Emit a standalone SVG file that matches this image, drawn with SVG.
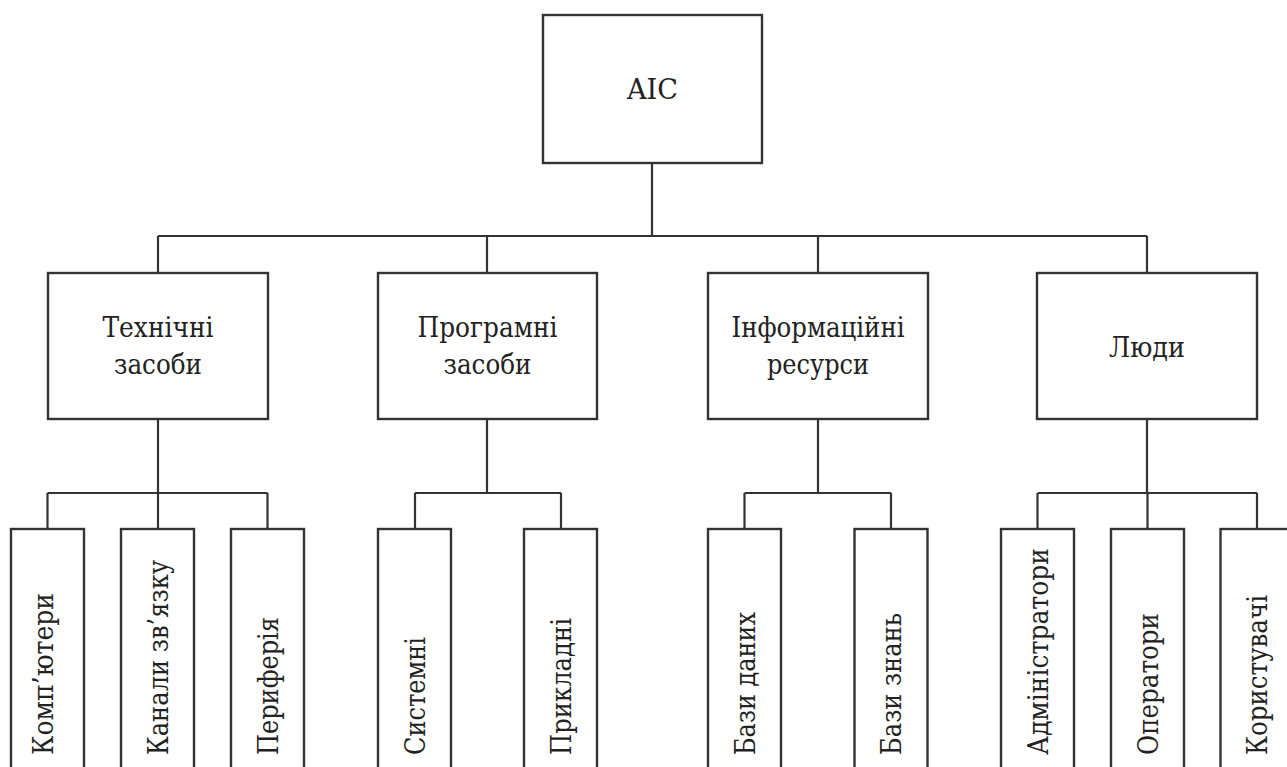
<svg xmlns="http://www.w3.org/2000/svg" width="1287" height="767" viewBox="0 0 1287 767">
<style>
.box{fill:#fff;stroke:#333;stroke-width:2.4}
.ln{fill:none;stroke:#333;stroke-width:2.2}
.t{font-family:"DejaVu Serif",serif;font-size:28px;fill:#222}
.c{text-anchor:middle}
</style>
<rect width="1287" height="767" fill="#fff"/>
<g id="connectors">
<path class="ln" d="M652,163V236M158,236H1147M158,236V273M487,236V273M818,236V273M1147,236V273"/>
<path class="ln" d="M158,419V493M47.5,493H267.5M47.5,493V529M158,493V529M267.5,493V529"/>
<path class="ln" d="M487,419V493M415,493H561M415,493V529M561,493V529"/>
<path class="ln" d="M818,419V493M744.5,493H891M744.5,493V529M891,493V529"/>
<path class="ln" d="M1147,419V493M1037.5,493H1257M1037.5,493V529M1147.5,493V529M1257,493V529"/>
</g>
<g id="n-aic"><rect class="box" x="543" y="15" width="219" height="148"/><text class="t c" x="652.5" y="99" textLength="51" lengthAdjust="spacingAndGlyphs">AIC</text></g>
<g id="n-tech"><rect class="box" x="48" y="273" width="220" height="146"/><text class="t c" x="158" y="337" textLength="111" lengthAdjust="spacingAndGlyphs">Технічні</text><text class="t c" x="158" y="374" textLength="88" lengthAdjust="spacingAndGlyphs">засоби</text></g>
<g id="n-prog"><rect class="box" x="378" y="273" width="219" height="146"/><text class="t c" x="487.5" y="337" textLength="140" lengthAdjust="spacingAndGlyphs">Програмні</text><text class="t c" x="487.5" y="374" textLength="88" lengthAdjust="spacingAndGlyphs">засоби</text></g>
<g id="n-info"><rect class="box" x="708" y="273" width="220" height="146"/><text class="t c" x="818" y="337" textLength="173" lengthAdjust="spacingAndGlyphs">Інформаційні</text><text class="t c" x="818" y="374" textLength="102" lengthAdjust="spacingAndGlyphs">ресурси</text></g>
<g id="n-people"><rect class="box" x="1037" y="273" width="220" height="146"/><text class="t c" x="1147" y="357" textLength="76" lengthAdjust="spacingAndGlyphs">Люди</text></g>
<g id="n-comp"><rect class="box" x="11" y="529" width="73" height="280"/><text class="t" transform="translate(53,755) rotate(-90)" textLength="162" lengthAdjust="spacingAndGlyphs">Комп’ютери</text></g>
<g id="n-chan"><rect class="box" x="121" y="529" width="73" height="280"/><text class="t" transform="translate(168,755) rotate(-90)" textLength="195" lengthAdjust="spacingAndGlyphs">Канали зв’язку</text></g>
<g id="n-peri"><rect class="box" x="231" y="529" width="73" height="280"/><text class="t" transform="translate(278,755) rotate(-90)" textLength="138" lengthAdjust="spacingAndGlyphs">Периферія</text></g>
<g id="n-sys"><rect class="box" x="378" y="529" width="73" height="280"/><text class="t" transform="translate(425,755) rotate(-90)" textLength="118" lengthAdjust="spacingAndGlyphs">Системні</text></g>
<g id="n-app"><rect class="box" x="524" y="529" width="73" height="280"/><text class="t" transform="translate(571,755) rotate(-90)" textLength="137" lengthAdjust="spacingAndGlyphs">Прикладні</text></g>
<g id="n-db"><rect class="box" x="708" y="529" width="73" height="280"/><text class="t" transform="translate(755,755) rotate(-90)" textLength="143" lengthAdjust="spacingAndGlyphs">Бази даних</text></g>
<g id="n-kb"><rect class="box" x="854.5" y="529" width="73" height="280"/><text class="t" transform="translate(901,755) rotate(-90)" textLength="142" lengthAdjust="spacingAndGlyphs">Бази знань</text></g>
<g id="n-adm"><rect class="box" x="1001" y="529" width="73" height="280"/><text class="t" transform="translate(1048,755) rotate(-90)" textLength="207" lengthAdjust="spacingAndGlyphs">Адміністратори</text></g>
<g id="n-oper"><rect class="box" x="1111" y="529" width="73" height="280"/><text class="t" transform="translate(1158,755) rotate(-90)" textLength="142" lengthAdjust="spacingAndGlyphs">Оператори</text></g>
<g id="n-user"><rect class="box" x="1220.5" y="529" width="73" height="280"/><text class="t" transform="translate(1267,755) rotate(-90)" textLength="160" lengthAdjust="spacingAndGlyphs">Користувачі</text></g>
</svg>
